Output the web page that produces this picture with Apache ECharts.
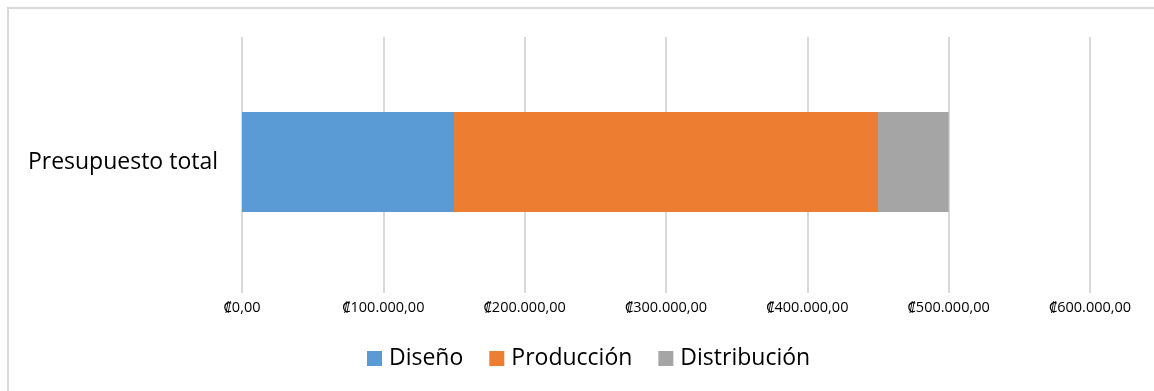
<!DOCTYPE html>
<html><head><meta charset="utf-8">
<script src="https://cdn.jsdelivr.net/npm/echarts@6/dist/echarts.min.js"></script>
<style>
html,body{margin:0;padding:0;background:#fff;}
#wrap{position:absolute;left:7px;top:7px;width:1160px;height:400px;border-left:2px solid #d9d9d9;border-top:2px solid #d9d9d9;box-sizing:border-box;}
#c{position:absolute;left:0;top:0;width:1154px;height:391px;}
</style></head>
<body>
<div id="wrap"></div>
<div id="c"></div>
<script>
const categories = ['Presupuesto total'];
const seriesNames = ['Diseño', 'Producción', 'Distribución'];
const diseno = [150000];
const produccion = [300000];
const distribucion = [50000];
const colors = ['#5B9BD5', '#ED7D31', '#A5A5A5'];

function fmt(v){
  const s = Math.round(v).toString().replace(/\B(?=(\d{3})+(?!\d))/g, '.');
  return '₡' + s + ',00';
}
const chart = echarts.init(document.getElementById('c'), null, {renderer:'canvas'});
const font = '"Open Sans", "Noto Sans", sans-serif';
chart.setOption({
  animation:false,
  textStyle:{fontFamily:font},
  color: colors,
  legend:{
    left:362, top:342, itemWidth:15, itemHeight:15, itemGap:26,
    icon:'rect',
    textStyle:{fontSize:23, color:'#000', fontFamily:font, padding:[0,0,0,2]},
    data: seriesNames
  },
  grid:[
    {left:242, right:64, top:37, bottom:98, containLabel:false},
    {left:242, right:64, top:37, bottom:104, containLabel:false}
  ],
  xAxis:[{
    gridIndex:0,
    type:'value', min:0, max:600000, interval:100000,
    axisLine:{show:false}, axisTick:{show:false},
    splitLine:{show:true, lineStyle:{color:'#d9d9d9', width:2}},
    axisLabel:{formatter:fmt, fontSize:14.5, color:'#000', margin:7, fontFamily:font}
  },{
    gridIndex:1,
    type:'value', min:0, max:600000, interval:100000,
    axisLine:{show:false}, axisTick:{show:false},
    splitLine:{show:false}, axisLabel:{show:false}
  }],
  yAxis:[{
    gridIndex:0, type:'category', data:categories,
    axisLine:{show:false}, axisTick:{show:false}, axisLabel:{show:false}
  },{
    gridIndex:1, type:'category', data:categories,
    axisLine:{show:false}, axisTick:{show:false},
    axisLabel:{fontSize:23, color:'#000', margin:24, fontFamily:font}
  }],
  series:[
    {name:seriesNames[0], type:'bar', stack:'t', data:diseno, barWidth:100, xAxisIndex:1, yAxisIndex:1},
    {name:seriesNames[1], type:'bar', stack:'t', data:produccion, barWidth:100, xAxisIndex:1, yAxisIndex:1},
    {name:seriesNames[2], type:'bar', stack:'t', data:distribucion, barWidth:100, xAxisIndex:1, yAxisIndex:1}
  ]
});
</script>
</body></html>
